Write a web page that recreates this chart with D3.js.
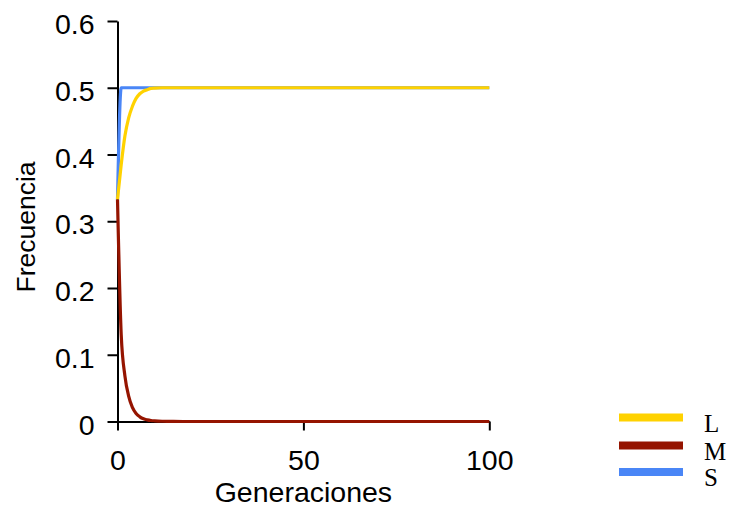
<!DOCTYPE html>
<html>
<head>
<meta charset="utf-8">
<script src="https://cdn.jsdelivr.net/npm/d3@7"></script>
<style>
  html, body { margin: 0; padding: 0; background: #fff; }
  svg { display: block; }
  .sans { font-family: "Liberation Sans", Arial, sans-serif; fill: #000; }
  .serif { font-family: "Liberation Serif", "Times New Roman", serif; fill: #000; }
</style>
</head>
<body>
<svg id="chart" width="729" height="508"></svg>
<script>
// Allele frequencies over generations
const generations = [0, 1, 2, 3, 4, 5, 6, 7, 8, 9, 10, 12, 15, 20, 30, 40, 50, 60, 70, 80, 90, 100];
const freqL = [0.333, 0.385, 0.428, 0.455, 0.472, 0.484, 0.491, 0.495, 0.497, 0.499, 0.4995, 0.5, 0.5, 0.5, 0.5, 0.5, 0.5, 0.5, 0.5, 0.5, 0.5, 0.5];
const freqM = [0.333, 0.13, 0.068, 0.038, 0.021, 0.012, 0.007, 0.004, 0.0025, 0.0015, 0.001, 0.0004, 0.0001, 0, 0, 0, 0, 0, 0, 0, 0, 0];
const freqS = [0.333, 0.5, 0.5, 0.5, 0.5, 0.5, 0.5, 0.5, 0.5, 0.5, 0.5, 0.5, 0.5, 0.5, 0.5, 0.5, 0.5, 0.5, 0.5, 0.5, 0.5, 0.5];

const xTicks = [0, 50, 100];
const yTicks = [0, 0.1, 0.2, 0.3, 0.4, 0.5, 0.6];

const seriesNames = ["L", "M", "S"];
const seriesColors = { L: "#ffd200", M: "#951400", S: "#4a86f6" };
const seriesValues = { L: freqL, M: freqM, S: freqS };

const svg = d3.select("#chart");

const x = d3.scaleLinear().domain([0, 100]).range([117.5, 489.3]);
const y = d3.scaleLinear().domain([0, 0.6]).range([421.5, 21]);

const labelSize = 28.5;

// Axes
const yAxis = d3.axisLeft(y).tickValues(yTicks).tickSize(10).tickSizeOuter(0)
  .tickFormat(d => d === 0 ? "0" : d3.format(".1f")(d));
const xAxis = d3.axisBottom(x).tickValues(xTicks).tickSize(9).tickSizeOuter(0)
  .tickFormat(d3.format("d"));

const gx = svg.append("g").attr("transform", `translate(0,${y(0)})`).call(xAxis);
const gy = svg.append("g").attr("transform", `translate(${x(0)},0)`).call(yAxis);

[gx, gy].forEach(g => {
  g.attr("font-family", null).attr("font-size", null);
  g.select(".domain").attr("stroke", "#000").attr("stroke-width", 2);
  g.selectAll(".tick line").attr("stroke", "#000").attr("stroke-width", 2);
  g.selectAll(".tick text").attr("class", "sans")
    .attr("font-size", labelSize).attr("fill", "#000");
});
gy.selectAll(".tick text").attr("x", -23).attr("dy", null).attr("y", 12.5);
gx.selectAll(".tick text").attr("dy", null).attr("y", 470 - y(0));

// Axis titles
svg.append("text").attr("class", "sans")
  .attr("x", x(50)).attr("y", 502)
  .attr("text-anchor", "middle").attr("font-size", labelSize)
  .text("Generaciones");

svg.append("text").attr("class", "sans")
  .attr("transform", `translate(35,${227}) rotate(-90)`)
  .attr("text-anchor", "middle").attr("font-size", 26.5)
  .text("Frecuencia");

// Series lines
const line = d3.line()
  .x((d, i) => x(generations[i]))
  .y(d => y(d))
  .curve(d3.curveMonotoneX);

const drawOrder = ["S", "M", "L"];
svg.append("g").selectAll("path")
  .data(drawOrder)
  .join("path")
  .attr("d", k => line(seriesValues[k]))
  .attr("fill", "none")
  .attr("stroke", k => seriesColors[k])
  .attr("stroke-width", 3.2)
  .attr("stroke-linejoin", "round");

// Legend
const legend = svg.append("g");
const legendY = [417.5, 445.5, 472];
seriesNames.forEach((k, i) => {
  legend.append("line")
    .attr("x1", 619).attr("x2", 683)
    .attr("y1", legendY[i]).attr("y2", legendY[i])
    .attr("stroke", seriesColors[k]).attr("stroke-width", 8);
  legend.append("text").attr("class", "serif")
    .attr("x", 704).attr("y", legendY[i] + 14)
    .attr("font-size", 25)
    .text(k);
});
</script>
</body>
</html>
